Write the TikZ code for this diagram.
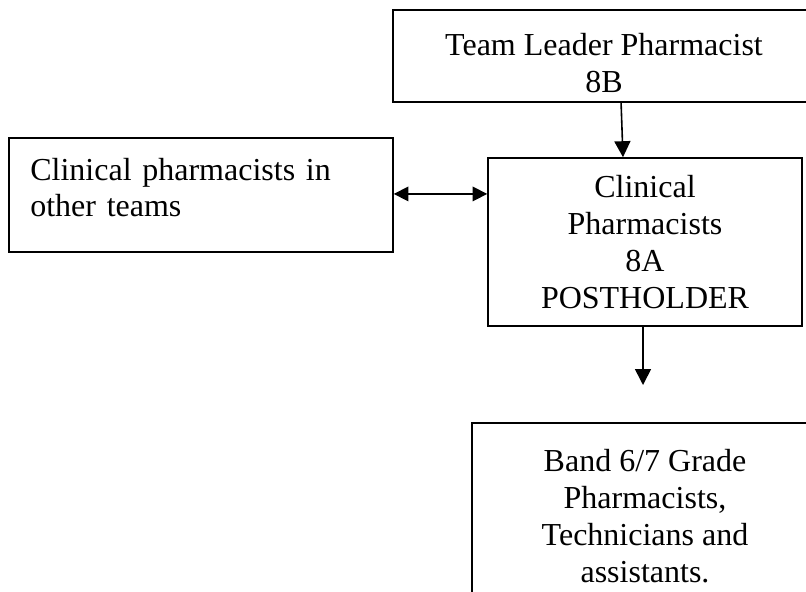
\documentclass[tikz,border=0pt]{standalone}
\usepackage{fontspec}
\setmainfont{Liberation Serif}
\usetikzlibrary{arrows.meta}
\begin{document}
\begin{tikzpicture}[x=0.375pt, y=-0.375pt]
\tikzstyle{every node}=[draw, line width=0.6pt, shape=rectangle, inner sep=0pt, font=\fontsize{12}{13.8}\selectfont];
\tikzstyle{arr}=[line width=0.6pt, -{Triangle[length=6pt,width=6pt]}];
\useasboundingbox (0,0) rectangle (806,591);
\clip (0,0) rectangle (806,591);
\node[minimum width=158.25pt, minimum height=34.5pt, text height=27.3pt, align=center] (lead) at (604,56) {Team Leader Pharmacist\\8B};
\node[text width=128pt, inner xsep=8pt, minimum height=42.75pt, text depth=19.5pt, align=left] (other) at (201,195) {Clinical pharmacists in\\other teams};
\node[minimum width=117.75pt, minimum height=63pt, align=center] (cp) at (645,242) {Clinical\\Pharmacists\\8A\\POSTHOLDER};
\node[minimum width=129.75pt, minimum height=69.75pt, align=center] (band) at (645,516) {Band 6/7 Grade\\Pharmacists,\\Technicians and\\assistants.};
\coordinate (tip) at (643,385);
\draw[arr] ([xshift=6.4pt]lead.south) -- ([xshift=-8.25pt]cp.north);
\draw[arr, {Triangle[length=5.5pt,width=5.5pt]}-{Triangle[length=5.5pt,width=5.5pt]}] ([yshift=0.4pt]other.east) -- ([yshift=0.4pt]other.east -| cp.west);
\draw[arr] (cp.south -| tip) -- (tip);
\end{tikzpicture}
\end{document}
